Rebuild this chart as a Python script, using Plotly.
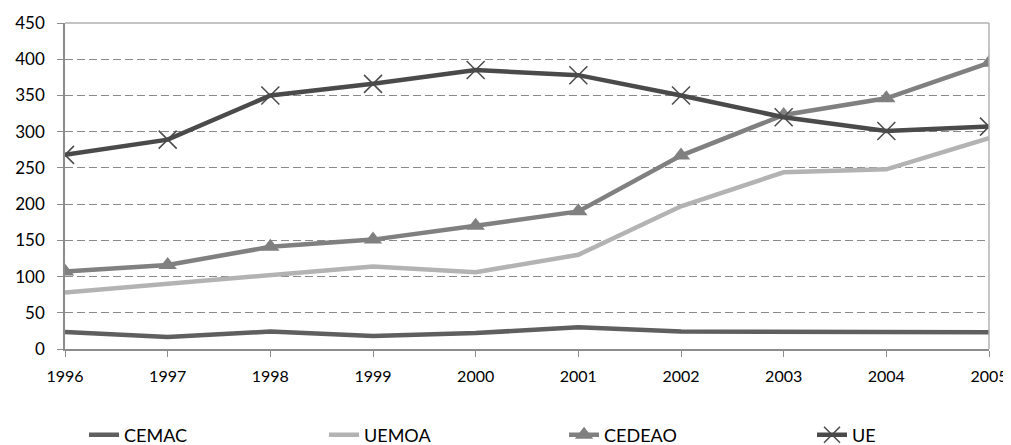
import plotly.graph_objects as go

years = [1996, 1997, 1998, 1999, 2000, 2001, 2002, 2003, 2004, 2005]
cemac = [23.5, 16.5, 24, 18, 22, 30, 24, 23.5, 23, 23]
uemoa = [78, 90, 103, 114, 106, 130, 197, 244, 248, 291]
cedeao = [107, 116, 141, 151, 170, 190, 267, 323, 346, 395]
ue = [268, 289, 350, 366, 385, 378, 350, 320, 301, 307]

fig = go.Figure()
fig.add_trace(go.Scatter(x=years, y=cemac, name="CEMAC", mode="lines",
                         line=dict(color="#5f5f5f", width=4.5)))
fig.add_trace(go.Scatter(x=years, y=uemoa, name="UEMOA", mode="lines",
                         line=dict(color="#b3b3b3", width=4.5)))
fig.add_trace(go.Scatter(x=years, y=cedeao, name="CEDEAO", mode="lines+markers",
                         line=dict(color="#808080", width=4.5),
                         marker=dict(symbol="triangle-up", size=16, color="#808080")))
fig.add_trace(go.Scatter(x=years, y=ue, name="UE", mode="lines+markers",
                         legend="legend2",
                         line=dict(color="#4a4a4a", width=4.5),
                         marker=dict(symbol="x-thin-open", size=18,
                                     line=dict(color="#3a3a3a", width=1.5))))

legend_common = dict(orientation="h", xref="container", yref="container",
                     y=0.0229, xanchor="left", yanchor="middle",
                     itemwidth=30, font=dict(size=18), tracegroupgap=0,
                     bgcolor="rgba(0,0,0,0)")

# the page body has an 8px margin, so the figure is 8px smaller and offset
fig.update_layout(
    width=1003, height=437,
    margin=dict(l=56.5, r=22, t=15, b=95.5, autoexpand=False),
    paper_bgcolor="white", plot_bgcolor="white",
    font=dict(family="Lato, Liberation Sans, sans-serif", size=17, color="#000000"),
    showlegend=True,
    legend=dict(x=0.0758, entrywidth=195, entrywidthmode="pixels", **legend_common),
    legend2=dict(x=0.8016, **legend_common),
    xaxis=dict(range=[1996, 2005], tickvals=years, ticktext=[str(y) for y in years],
               showgrid=False, zeroline=False, showline=True, linecolor="#8c8c8c",
               linewidth=1.5, mirror=False, ticks="outside", ticklen=6,
               tickcolor="#8c8c8c", automargin=False, ticklabelstandoff=6,
               tickfont=dict(size=16), ticklabeloverflow="allow"),
    yaxis=dict(range=[0, 450], tickvals=list(range(0, 451, 50)), showgrid=True,
               gridcolor="#8a8a8a", griddash="8px,4px", gridwidth=1.2, zeroline=False,
               showline=True, linecolor="#8c8c8c", linewidth=1.5, ticks="outside",
               ticklen=6, tickcolor="#8c8c8c", automargin=False, ticklabelstandoff=9),
)
# right and top border lines of the plot area
fig.add_shape(type="line", xref="paper", yref="paper", x0=1, x1=1, y0=0, y1=1,
              line=dict(color="#b0b0b0", width=1.5))
fig.add_shape(type="line", xref="paper", yref="paper", x0=0, x1=1, y0=1, y1=1,
              line=dict(color="#b0b0b0", width=1.5))

fig.write_html("out.html")
